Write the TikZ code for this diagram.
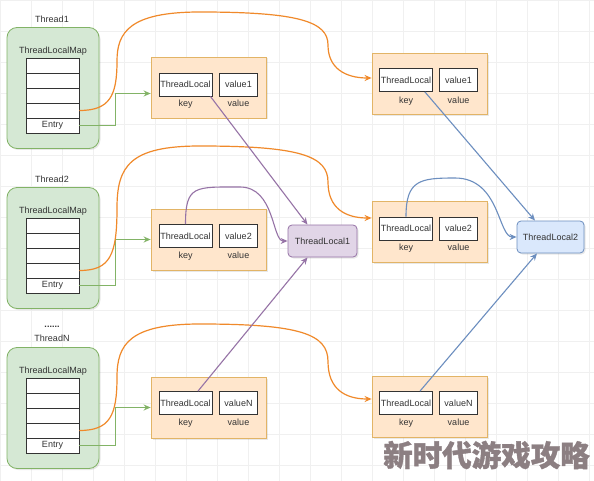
\documentclass[tikz,border=0pt]{standalone}
\usepackage{fontspec}
\setmainfont{Liberation Sans}
\newfontfamily\cjk{Noto Sans CJK SC}[FakeBold=1.2]
\usetikzlibrary{arrows.meta,shadows}

\definecolor{txtgray}{HTML}{333333}
\definecolor{gridgray}{HTML}{F0F0F0}
\definecolor{mapfill}{HTML}{D5E8D4}
\definecolor{mapline}{HTML}{82B366}
\definecolor{kvfill}{HTML}{FFE6CC}
\definecolor{kvline}{HTML}{E2B466}
\definecolor{refline}{HTML}{F0892A}
\definecolor{tlafill}{HTML}{E1D5E7}
\definecolor{tlaline}{HTML}{9673A6}
\definecolor{tlbfill}{HTML}{DAE8FC}
\definecolor{tlbline}{HTML}{6C8EBF}
\definecolor{wmgray}{HTML}{8C7F82}

\tikzset{
  >={Stealth[length=7pt,width=6pt]},
  softshadow/.style={drop shadow={shadow xshift=1.5pt,shadow yshift=-1.5pt,opacity=0.18}},
  threadbox/.style={draw=mapline, fill=mapfill, line width=0.8pt, rounded corners=10pt,
    minimum width=92pt, minimum height=121pt, softshadow},
  maprow/.style={draw=black!80, fill=white, line width=0.7pt, inner sep=0pt,
    minimum width=53pt, minimum height=15pt},
  kvbox/.style={draw=kvline, fill=kvfill, line width=0.8pt,
    minimum width=115pt, minimum height=61pt, softshadow},
  keybox/.style={draw=black!80, fill=white, line width=0.8pt, inner sep=0pt,
    minimum width=53pt, minimum height=23pt},
  valbox/.style={keybox, minimum width=38pt},
  tlabox/.style={draw=tlaline, fill=tlafill, line width=0.8pt, rounded corners=4pt,
    minimum width=69pt, minimum height=32pt, softshadow},
  tlbbox/.style={draw=tlbline, fill=tlbfill, line width=0.8pt, rounded corners=4pt,
    minimum width=67pt, minimum height=32pt, softshadow},
  lbl/.style={inner sep=0pt, text height=6.5pt, text depth=2pt},
  entryarrow/.style={->, draw=mapline, line width=1.2pt},
  refcurve/.style={->, draw=refline, line width=1.2pt},
  tlaarrow/.style={->, draw=tlaline, line width=1.1pt},
  tlbarrow/.style={->, draw=tlbline, line width=1.1pt},
}

\begin{document}
\begin{tikzpicture}[x=1pt,y=-1pt, font=\fontsize{9}{10}\selectfont, text=txtgray]
  \useasboundingbox (0,0) rectangle (594,481);
  \fill[white] (0,0) rectangle (594,481);
  \draw[step=31pt, gridgray, very thin] (0,0) grid (594,481);

  % threads and their maps
  \node[threadbox] (th1) at (53,88) {};
  \node[lbl] (th1name) at (52,20) {Thread1};
  \node[lbl] (map1) at (53,51) {ThreadLocalMap};
  \node[maprow] (m1a) at (52.5,65.5) {};
  \node[maprow] (m1b) at (52.5,80.5) {};
  \node[maprow] (m1c) at (52.5,95.5) {};
  \node[maprow] (m1d) at (52.5,110.5) {};
  \node[maprow] (m1e) at (52.5,125.5) {Entry};

  \node[threadbox] (th2) at (53,248) {};
  \node[lbl] (th2name) at (52,180) {Thread2};
  \node[lbl] (map2) at (53,211) {ThreadLocalMap};
  \node[maprow] (m2a) at (52.5,225.5) {};
  \node[maprow] (m2b) at (52.5,240.5) {};
  \node[maprow] (m2c) at (52.5,255.5) {};
  \node[maprow] (m2d) at (52.5,270.5) {};
  \node[maprow] (m2e) at (52.5,285.5) {Entry};

  \node[lbl, font=\bfseries\fontsize{9}{10}\selectfont] (dots) at (52,325) {......};
  \node[threadbox] (thN) at (53,408) {};
  \node[lbl] (thNname) at (52,339) {ThreadN};
  \node[lbl] (mapN) at (53,371) {ThreadLocalMap};
  \node[maprow] (mNa) at (52.5,385.5) {};
  \node[maprow] (mNb) at (52.5,400.5) {};
  \node[maprow] (mNc) at (52.5,415.5) {};
  \node[maprow] (mNd) at (52.5,430.5) {};
  \node[maprow] (mNe) at (52.5,445.5) {Entry};

  % entries of the maps
  \node[kvbox] (kvl1) at (208.5,87.5) {};
  \node[keybox] (tll1) at (185.5,84.5) {ThreadLocal};
  \node[valbox] (vl1) at (238.5,84.5) {value1};
  \node[lbl] at (185.5,104) {key};
  \node[lbl] at (238.5,104) {value};

  \node[kvbox] (kvl2) at (208.5,239.5) {};
  \node[keybox] (tll2) at (185.5,236) {ThreadLocal};
  \node[valbox] (vl2) at (238.5,236) {value2};
  \node[lbl] at (185.5,256) {key};
  \node[lbl] at (238.5,256) {value};

  \node[kvbox] (kvlN) at (208.5,407.5) {};
  \node[keybox] (tllN) at (185.5,403) {ThreadLocal};
  \node[valbox] (vlN) at (238.5,403) {valueN};
  \node[lbl] at (185.5,423) {key};
  \node[lbl] at (238.5,423) {value};

  \node[kvbox] (kvr1) at (429.5,84) {};
  \node[keybox] (tlr1) at (406,80) {ThreadLocal};
  \node[valbox] (vr1) at (458.5,80) {value1};
  \node[lbl] at (406,101) {key};
  \node[lbl] at (458.5,101) {value};

  \node[kvbox] (kvr2) at (429.5,232) {};
  \node[keybox] (tlr2) at (406,228.5) {ThreadLocal};
  \node[valbox] (vr2) at (458.5,228.5) {value2};
  \node[lbl] at (406,248) {key};
  \node[lbl] at (458.5,248) {value};

  \node[kvbox] (kvrN) at (429.5,407) {};
  \node[keybox] (tlrN) at (406,403) {ThreadLocal};
  \node[valbox] (vrN) at (458.5,403) {valueN};
  \node[lbl] at (406,423) {key};
  \node[lbl] at (458.5,423) {value};

  \node[tlabox] (tl1) at (322.5,241) {ThreadLocal1};
  \node[tlbbox] (tl2) at (550.5,237) {ThreadLocal2};

  % entry -> key/value
  \draw[entryarrow] (m1e.east) -- ++(36,0) |- ([yshift=-6pt]kvl1.west);
  \draw[entryarrow] (m2e.east) -- ++(36,0) |- (kvl2.west);
  \draw[entryarrow] (mNe.east) -- ++(36,0) |- (kvlN.west);

  % map slots -> other entries
  \draw[refcurve] (m1d.east) .. controls (110,110.5) and (117,95.5) .. (117,61)
     .. controls (117,32) and (130,12) .. (200,12)
     .. controls (300,12) and (328,22) .. (328,45)
     .. controls (328,68) and (345,78) .. ([yshift=6pt]kvr1.west);
  \draw[refcurve] (m2d.east) .. controls (110,270.5) and (117,255.5) .. (117,208)
     .. controls (117,166) and (130,146) .. (200,146)
     .. controls (300,146) and (328,156) .. (328,182)
     .. controls (328,208) and (345,218) .. ([yshift=14pt]kvr2.west);
  \draw[refcurve] (mNd.east) .. controls (110,430.5) and (117,415.5) .. (117,377)
     .. controls (117,344) and (130,324) .. (200,324)
     .. controls (300,324) and (328,334) .. (328,361.5)
     .. controls (328,389) and (345,399) .. ([yshift=8pt]kvrN.west);

  % keys -> ThreadLocal objects
  \draw[tlaarrow] ([xshift=-2pt]tll1.south east) -- ([xshift=-15pt]tl1.north);
  \draw[tlaarrow] (tll2.north) .. controls (185.5,185) and (195,187) .. (240,187)
     .. controls (275,187) and (272,241) .. (tl1.west);
  \draw[tlaarrow] ([xshift=12.5pt]tllN.north) -- ([xshift=-15pt]tl1.south);

  \draw[tlbarrow] ([xshift=-8pt]tlr1.south east) -- ([xshift=-15.5pt]tl2.north);
  \draw[tlbarrow] (tlr2.north) .. controls (406,180) and (420,178) .. (455,178)
     .. controls (500,178) and (498,237) .. (tl2.west);
  \draw[tlbarrow] ([xshift=14pt]tlrN.north) -- ([xshift=-13.5pt]tl2.south);

  \node[inner sep=0pt, font=\cjk\bfseries\fontsize{29.5}{30}\selectfont, text=wmgray] (mark) at (486.5,455) {新时代游戏攻略};
\end{tikzpicture}
\end{document}
